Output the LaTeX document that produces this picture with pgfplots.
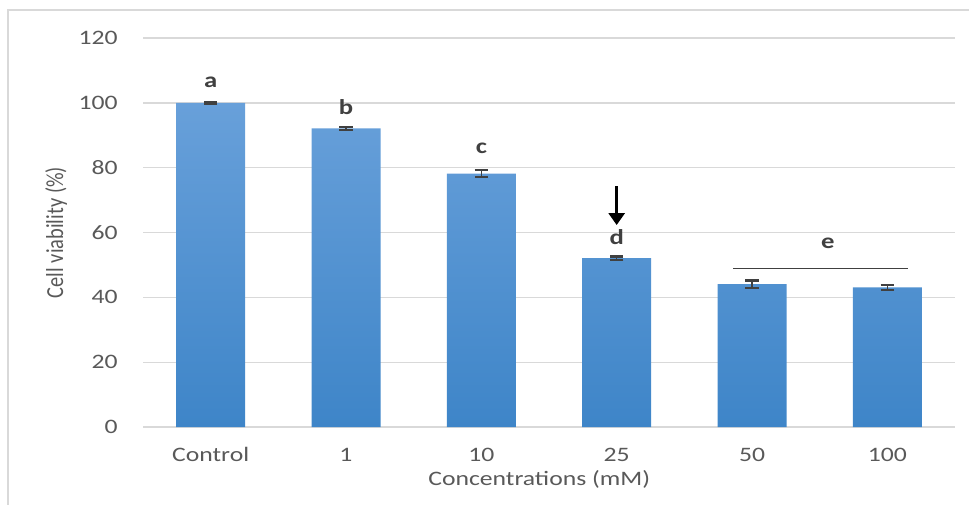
\documentclass[border=0pt]{standalone}
\usepackage{graphicx}
\usepackage{pgfplots}
\pgfplotsset{compat=1.18}
\usetikzlibrary{arrows.meta}
\usepackage{fontspec}
\setmainfont{Carlito}[FakeStretch=1.25]
\newfontfamily\plainfont{Carlito}
\definecolor{txtgray}{HTML}{595959}
\definecolor{gridgray}{HTML}{D9D9D9}
\definecolor{errgray}{HTML}{404040}
\definecolor{bartop}{RGB}{104,160,218}
\definecolor{barbot}{RGB}{62,133,200}
\begin{document}
\begin{tikzpicture}
\useasboundingbox (0,0) rectangle (726.75pt,378pt);
% outer frame
\draw[gridgray, line width=1.2pt] (6pt,-2pt) -- (6pt,370.5pt) -- (730pt,370.5pt);
\begin{axis}[
  at={(107.25pt,57.75pt)}, anchor=south west,
  scale only axis, width=609pt, height=291.75pt,
  xmin=-0.5, xmax=5.5, ymin=0, ymax=120,
  ytick={0,20,...,120},
  xtick=data,
  xticklabels={Control,1,10,25,50,100},
  axis line style={draw=none},
  tick style={draw=none},
  ymajorgrids, grid style={gridgray, line width=1pt},
  /pgf/number format/assume math mode=true,
  ticklabel style={font=\fontsize{15.4}{18}\selectfont, text=txtgray, inner sep=0pt},
  yticklabel style={anchor=east, xshift=-18.75pt},
  xticklabel style={anchor=base, yshift=-25.5pt},
  xlabel={Concentrations (mM)},
  xlabel style={at={(axis description cs:0.488,0)}, anchor=base, yshift=-43.5pt, inner sep=0pt, font=\fontsize{15.4}{18}\selectfont, text=txtgray},
  ylabel={\scalebox{1}[1.2]{\plainfont\fontsize{15.3}{18}\selectfont Cell viability (\%)}},
  ylabel style={at={(axis description cs:-0.1071,0.5)}, anchor=center, inner sep=0pt, text=txtgray},
  clip=false,
]
\addplot[ybar, bar width=51.75pt, draw=none, top color=bartop, bottom color=barbot,
  error bars/.cd, y dir=both, y explicit,
  error bar style={errgray, line width=1.1pt},
  error mark options={rotate=90, mark size=5pt, line width=1.6pt, errgray}]
  coordinates {
  (0,100) +- (0,0.3)
  (1,92.1) +- (0,0.4)
  (2,78.2) +- (0,1.1)
  (3,52.1) +- (0,0.5)
  (4,44.1) +- (0,1.1)
  (5,43.1) +- (0,0.8)
  };
\tikzset{lett/.style={font=\bfseries\fontsize{16}{19}\selectfont, text=errgray, anchor=center, inner sep=0pt}}
\node[lett] at (axis cs:0,106.4) {a};
\node[lett] at (axis cs:1,98.7) {b};
\node[lett] at (axis cs:2,86.1) {c};
\node[lett] at (axis cs:3,58.6) {d};
\node[lett] at (axis cs:4.56,56.8) {e};
\draw[errgray, line width=0.8pt] (axis cs:3.86,49.0) -- (axis cs:5.155,49.0);
\draw[black, line width=2.2pt, -{Triangle[width=12pt,length=9pt]}] (axis cs:3,74.3) -- (axis cs:3,62.3);
\end{axis}
\end{tikzpicture}
\end{document}
